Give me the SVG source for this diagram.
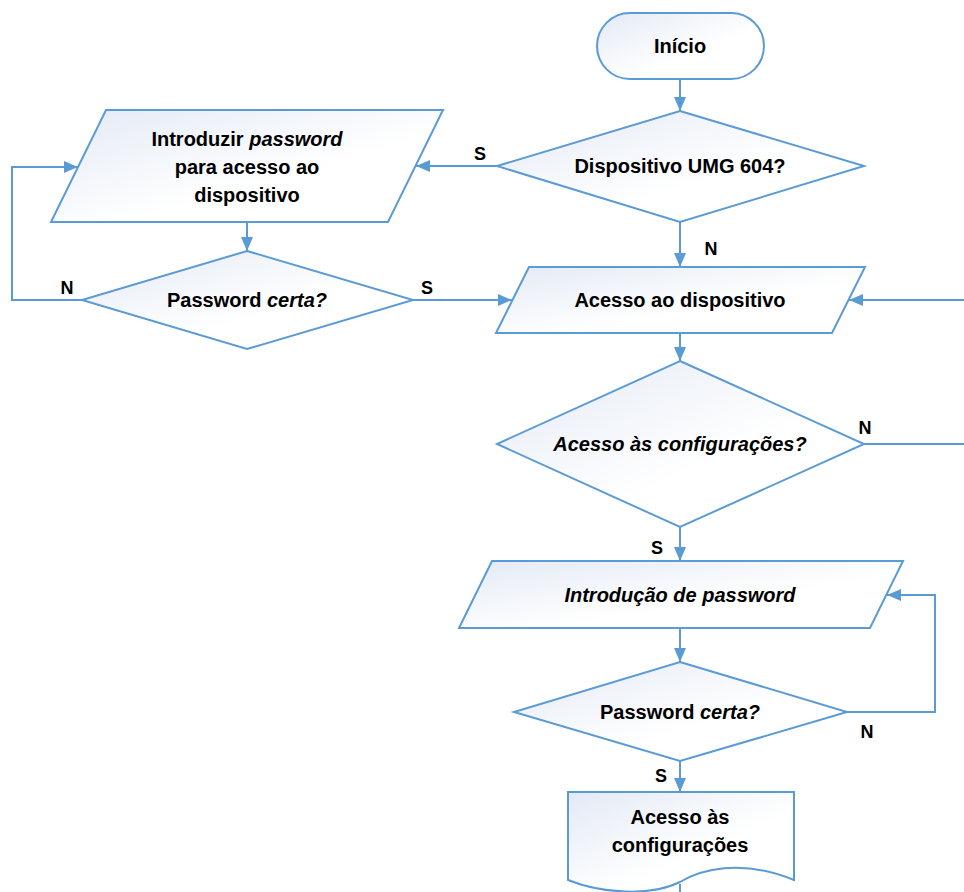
<svg xmlns="http://www.w3.org/2000/svg" width="964" height="892" viewBox="0 0 964 892">
<defs>
<linearGradient id="g" x1="0" y1="0" x2="1" y2="1">
<stop offset="0" stop-color="#E3EAF5"/>
<stop offset="0.6" stop-color="#FFFFFF"/>
</linearGradient>
<marker id="arr" markerWidth="14" markerHeight="12" refX="14" refY="6" orient="auto" markerUnits="userSpaceOnUse">
<path d="M0,0 L14,6 L0,12 z" fill="#5B9BD5"/>
</marker>
<style>
.s{fill:url(#g);stroke:#5B9BD5;stroke-width:2}
.c{fill:none;stroke:#5B9BD5;stroke-width:2}
.a{marker-end:url(#arr)}
text{font-family:"Liberation Sans",Arial,sans-serif;font-weight:bold;font-size:20px;fill:#000;text-anchor:middle}
.l{font-size:18px}
.i{font-style:italic}
</style>
</defs>
<rect width="964" height="892" fill="#fff"/>
<g id="connectors">
<path class="c a" d="M680,79 V111"/>
<path class="c a" d="M497,166 H416"/>
<path class="c a" d="M680,222 V267"/>
<path class="c a" d="M247,222 V251"/>
<path class="c a" d="M82,300 H12 V167 H78"/>
<path class="c a" d="M413,300 H512"/>
<path class="c a" d="M964,300 H849"/>
<path class="c a" d="M680,333 V361"/>
<path class="c" d="M864,444 H964"/>
<path class="c a" d="M680,527 V561"/>
<path class="c a" d="M680,628 V662"/>
<path class="c a" d="M847,712 H935 V595 H887"/>
<path class="c a" d="M680,761 V792"/>
<path class="c" d="M680,884 V892"/>
<text class="l" x="480" y="160">S</text>
<text class="l" x="711" y="255">N</text>
<text class="l" x="67" y="294">N</text>
<text class="l" x="427" y="294">S</text>
<text class="l" x="865" y="434">N</text>
<text class="l" x="657" y="554">S</text>
<text class="l" x="867" y="738">N</text>
<text class="l" x="661" y="782">S</text>
</g>
<g id="inicio">
<rect class="s" x="597" y="13" width="167" height="66" rx="33"/>
<text x="680" y="53">Início</text>
</g>
<g id="d_umg">
<polygon class="s" points="680,111 864,166 680,222 497,166"/>
<text x="680" y="173">Dispositivo UMG 604?</text>
</g>
<g id="p_introduzir">
<polygon class="s" points="106,110 443,110 388,222 51,222"/>
<text x="247" y="146">Introduzir <tspan class="i">password</tspan></text>
<text x="247" y="174">para acesso ao</text>
<text x="247" y="202">dispositivo</text>
</g>
<g id="d_pw1">
<polygon class="s" points="247,251 413,300 247,349 82,300"/>
<text x="247" y="307">Password <tspan class="i">certa?</tspan></text>
</g>
<g id="p_acesso">
<polygon class="s" points="529,267 865,267 832,333 496,333"/>
<text x="680" y="307">Acesso ao dispositivo</text>
</g>
<g id="d_config">
<polygon class="s" points="680,361 864,444 680,527 497,444"/>
<text class="i" x="680" y="451">Acesso às configurações?</text>
</g>
<g id="p_intro_pw">
<polygon class="s" points="492,561 903,561 870,628 459,628"/>
<text class="i" x="680" y="602">Introdução de password</text>
</g>
<g id="d_pw2">
<polygon class="s" points="680,662 847,712 680,761 514,712"/>
<text x="680" y="719">Password <tspan class="i">certa?</tspan></text>
</g>
<g id="doc_config">
<path class="s" d="M568,792 H794 V880 C740,858 700,870 680,882 C650,897 600,893 568,880 Z"/>
<text x="680" y="824">Acesso às</text>
<text x="680" y="852">configurações</text>
</g>
</svg>
